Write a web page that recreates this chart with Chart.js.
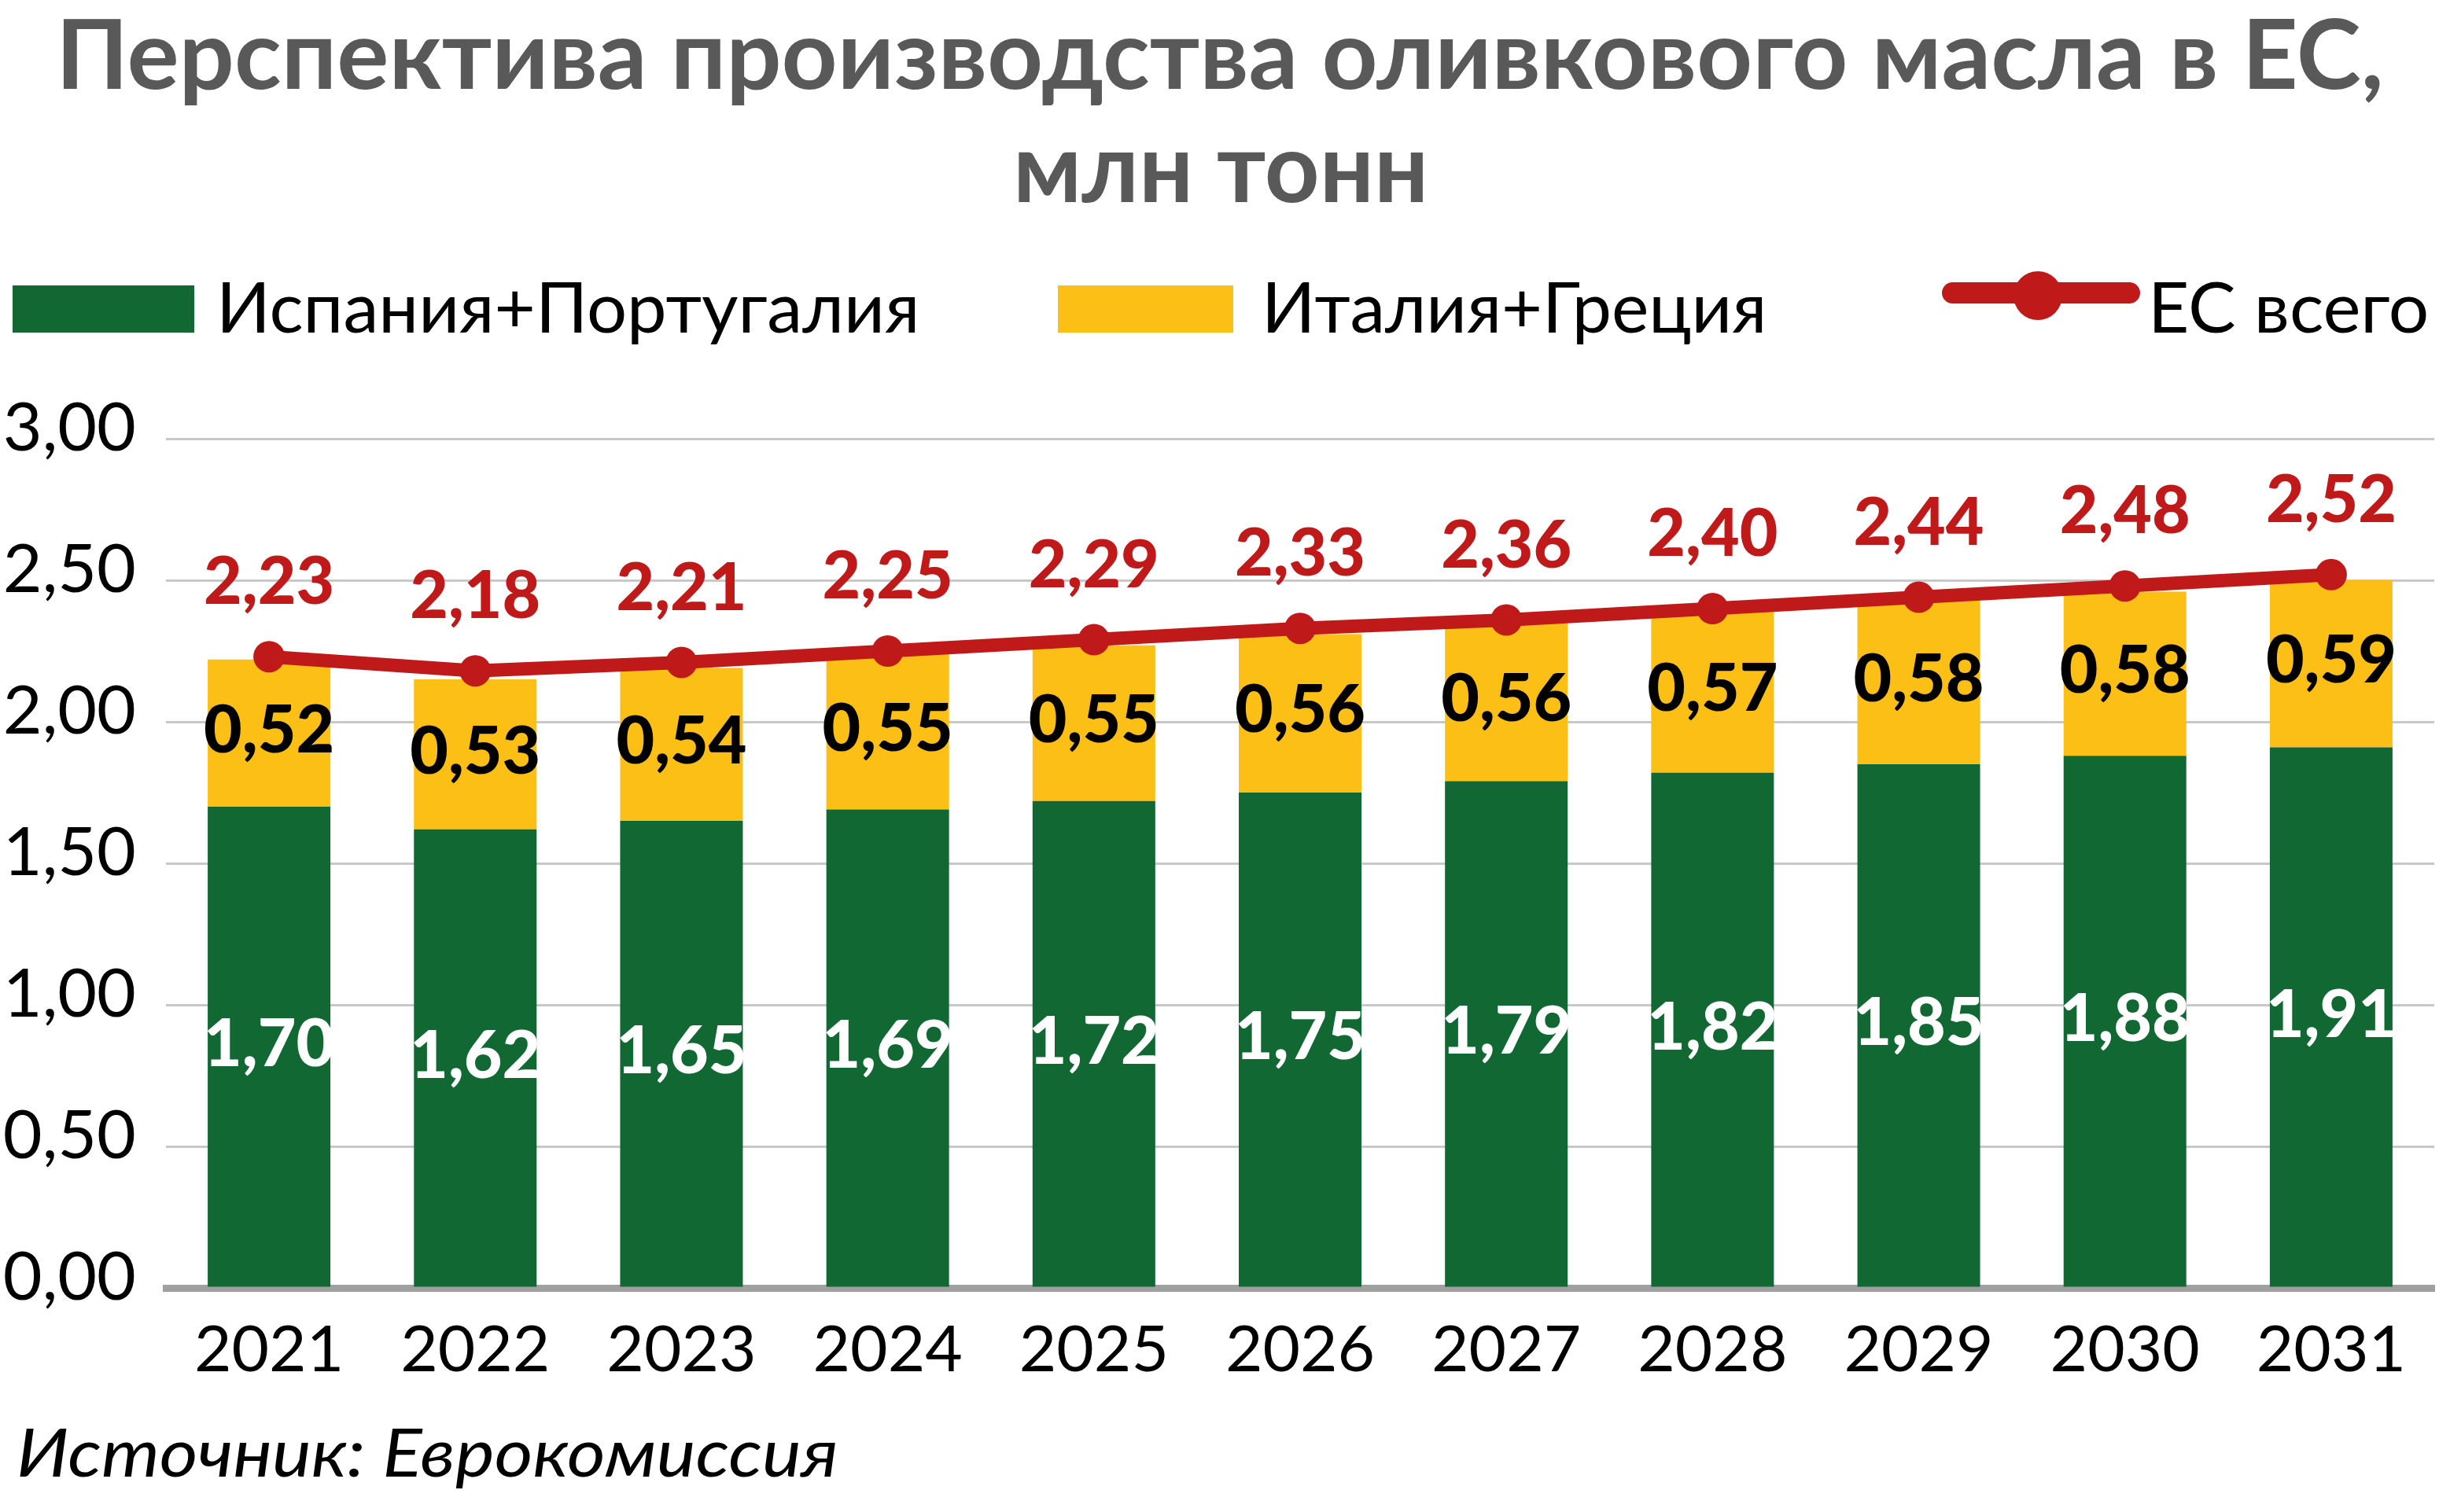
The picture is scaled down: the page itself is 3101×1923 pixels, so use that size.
<!DOCTYPE html>
<html><head><meta charset="utf-8">
<script src="https://cdn.jsdelivr.net/npm/chart.js@4.4.1/dist/chart.umd.min.js"></script>
<style>
html,body{margin:0;padding:0;background:#fff;}
body{width:3101px;height:1923px;position:relative;overflow:hidden;}
#c{position:absolute;left:0;top:0;}
.t{position:absolute;white-space:nowrap;transform-origin:0 0;margin:0;padding:0;}
.box{position:absolute;}
</style></head><body>
<canvas id="c" width="3101" height="1923"></canvas>
<div id="title1" class="t"></div>
<div id="title2" class="t"></div>
<div class="box" style="left:16px;top:363px;width:231px;height:60px;background:#126833"></div>
<div class="box" style="left:1345px;top:363px;width:223px;height:60px;background:#FBBF16"></div>
<div class="box" style="left:2469px;top:359px;width:252px;height:27px;border-radius:14px;background:#C0191A"></div>
<div class="box" style="left:2560px;top:345px;width:62px;height:62px;border-radius:50%;background:#C0191A"></div>
<div id="leg1" class="t"></div>
<div id="leg2" class="t"></div>
<div id="leg3" class="t"></div>
<div id="src" class="t"></div>
<script>
// ---- data ----
const years = ['2021','2022','2023','2024','2025','2026','2027','2028','2029','2030','2031'];
const spainPortugal = [1.70,1.62,1.65,1.69,1.72,1.75,1.79,1.82,1.85,1.88,1.91];
const italyGreece = [0.52,0.53,0.54,0.55,0.55,0.56,0.56,0.57,0.58,0.58,0.59];
const euTotal = [2.23,2.18,2.21,2.25,2.29,2.33,2.36,2.40,2.44,2.48,2.52];
const seriesNames = ['Испания+Португалия','Италия+Греция','ЕС всего'];
const titleLines = ['Перспектива производства оливкового масла в ЕС,','млн тонн'];
const sourceText = 'Источник: Еврокомиссия';

const GREEN='#126833', YELLOW='#FBBF16', RED='#C0191A';
const FAM="Lato, 'Open Sans', sans-serif";
const fmt = v => v.toFixed(2).replace('.', ',');

function place(id, text, font, color, left, right, baseline){
  const el=document.getElementById(id);
  el.textContent=text; el.style.font=font; el.style.color=color;
  const c=document.createElement('canvas').getContext('2d'); c.font=font;
  const m=c.measureText(text);
  const A=m.fontBoundingBoxAscent, D=m.fontBoundingBoxDescent;
  el.style.lineHeight=(A+D)+'px';
  el.style.top=(baseline-A)+'px';
  const w=m.actualBoundingBoxLeft+m.actualBoundingBoxRight;
  const sx=(right-left)/w;
  el.style.left=(left+m.actualBoundingBoxLeft*sx)+'px';
  el.style.transform='scaleX('+sx+')';
}
place('title1', titleLines[0], "bold 122px "+FAM, '#595959', 80, 3026, 113);
place('title2', titleLines[1], "bold 122px "+FAM, '#595959', 1295, 1809, 257);
place('leg1', seriesNames[0], "400 90px "+FAM, '#000', 283, 1163, 423);
place('leg2', seriesNames[1], "400 90px "+FAM, '#000', 1612, 2240, 423);
place('leg3', seriesNames[2], "400 90px "+FAM, '#000', 2739, 3085, 423);
place('src', sourceText, "italic 400 86px "+FAM, '#000', 25, 1062, 1878);

const labelsPlugin = {
  id:'valueLabels',
  afterDatasetsDraw(chart){
    const ctx=chart.ctx;
    ctx.save();
    ctx.textAlign='center';
    ctx.textBaseline='alphabetic';
    const size=84, half=size*0.36;
    ctx.font='900 '+size+'px '+FAM;
    const mL=chart.getDatasetMeta(0), mG=chart.getDatasetMeta(1), mY=chart.getDatasetMeta(2);
    mG.data.forEach((b,i)=>{ ctx.fillStyle='#fff'; ctx.fillText(fmt(spainPortugal[i]), b.x, (b.y+b.base)/2 - 5 + half); });
    mY.data.forEach((b,i)=>{ ctx.fillStyle='#000'; ctx.fillText(fmt(italyGreece[i]), b.x, (b.y+b.base)/2 - 6 + half); });
    mL.data.forEach((p,i)=>{ ctx.fillStyle=RED; ctx.fillText(fmt(euTotal[i]), p.x, p.y - 97 + half); });
    ctx.restore();
  }
};

new Chart(document.getElementById('c'), {
  type:'bar',
  data:{
    labels:years,
    datasets:[
      {type:'line', label:seriesNames[2], data:euTotal, borderColor:RED, backgroundColor:RED,
       borderWidth:17, pointRadius:20, pointHoverRadius:20, pointBackgroundColor:RED, pointBorderWidth:0,
       order:0, stack:'total', tension:0, clip:false},
      {label:seriesNames[0], data:spainPortugal, backgroundColor:GREEN, order:1, stack:'bars',
       barPercentage:0.595, categoryPercentage:1},
      {label:seriesNames[1], data:italyGreece, backgroundColor:YELLOW, order:2, stack:'bars',
       barPercentage:0.595, categoryPercentage:1}
    ]
  },
  options:{
    responsive:false, animation:false, devicePixelRatio:1,
    layout:{autoPadding:false, padding:{top:558,right:6,left:0,bottom:0}},
    plugins:{legend:{display:false}, tooltip:{enabled:false}, title:{display:false}},
    scales:{
      x:{stacked:true, grid:{display:false, drawTicks:false},
         border:{display:true, color:'#A0A0A0', width:9},
         ticks:{font:{family:FAM, size:82, weight:400}, color:'#000', padding:30},
         afterFit(s){ s.height=285; s.paddingLeft=0; s.paddingRight=0; }},
      y:{stacked:true, min:0, max:3,
         ticks:{stepSize:0.5, callback:v=>fmt(v), font:{family:FAM, size:86, weight:400}, color:'#000', padding:38, labelOffset:-13},
         grid:{color:'#C8C8C8', lineWidth:3, drawTicks:false},
         border:{display:false},
         afterFit(s){ s.width=211; s.paddingTop=0; s.paddingBottom=0; }}
    }
  },
  plugins:[labelsPlugin]
});
</script>
</body></html>
